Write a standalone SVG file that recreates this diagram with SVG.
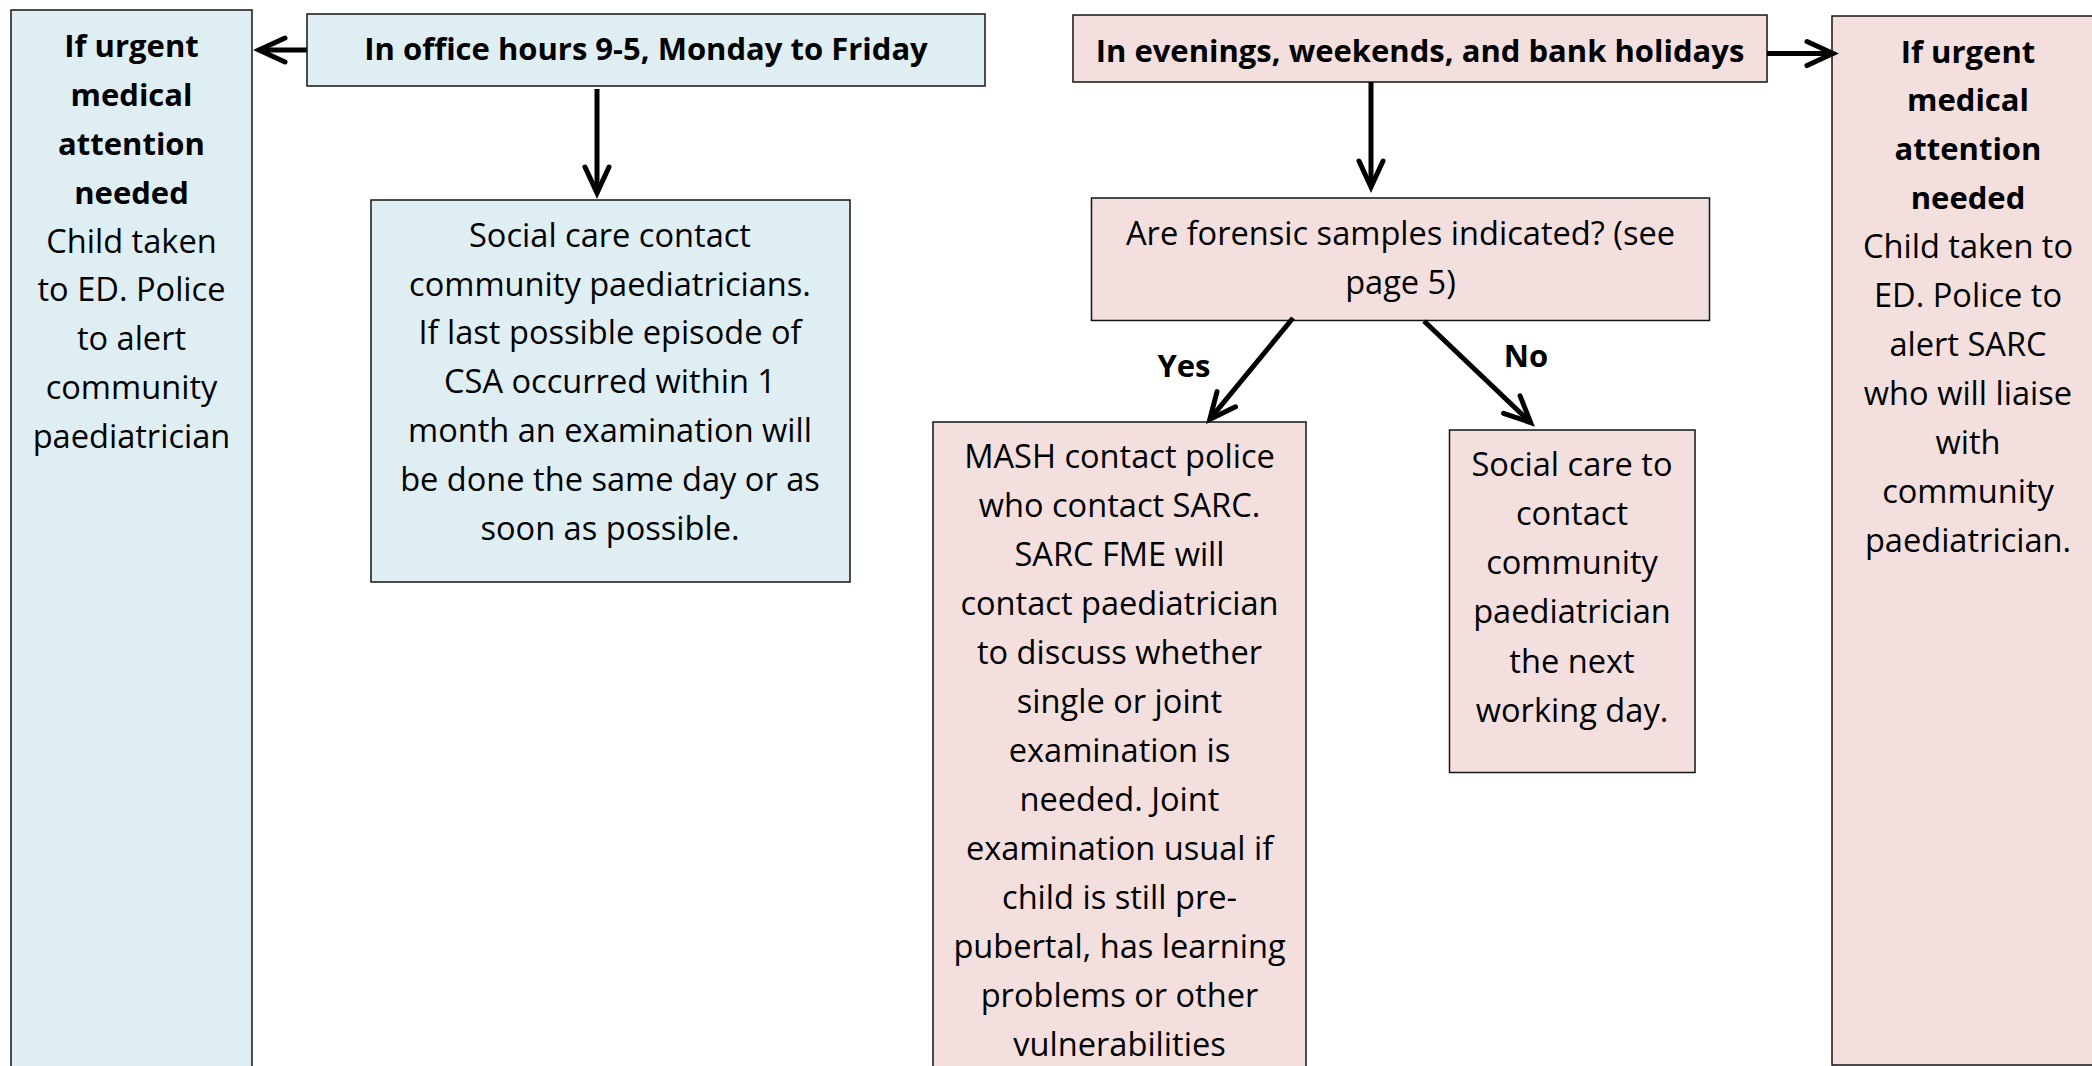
<svg xmlns="http://www.w3.org/2000/svg" width="2092" height="1066" viewBox="0 0 2092 1066">
<style>
  .box { stroke: #151515; stroke-width: 1.5; }
  .blue { fill: #DFEEF3; }
  .pink { fill: #F2DFDE; }
  text { font-family: "Open Sans", "Liberation Sans", sans-serif; font-size: 32.6px; fill: #000; text-anchor: middle; }
  .b { font-weight: bold; font-size: 31px; }
  .conn { stroke: #000; stroke-width: 5; fill: none; marker-end: url(#ah); }
</style>
<defs>
  <marker id="ah" markerUnits="userSpaceOnUse" orient="auto" overflow="visible" refX="0" refY="0" markerWidth="1" markerHeight="1">
    <path d="M-20,-12 L6,0 L-20,12" fill="none" stroke="#000" stroke-width="5" stroke-linejoin="miter" stroke-linecap="round"/>
  </marker>
</defs>
<rect width="2092" height="1066" fill="#fff"/>

<g id="urgent-left">
  <rect class="box blue" x="11" y="10" width="241" height="1075"/>
  <text class="b" x="131.5" y="56.7">If urgent</text>
  <text class="b" x="131.5" y="105.6">medical</text>
  <text class="b" x="131.5" y="154.6">attention</text>
  <text class="b" x="131.5" y="203.5">needed</text>
  <text x="131.5" y="252.5">Child taken</text>
  <text x="131.5" y="301.4">to ED. Police</text>
  <text x="131.5" y="350.4">to alert</text>
  <text x="131.5" y="399.3">community</text>
  <text x="131.5" y="448.3">paediatrician</text>
</g>

<g id="office-hours">
  <rect class="box blue" x="307" y="14" width="678" height="72"/>
  <text class="b" x="646" y="60">In office hours 9-5, Monday to Friday</text>
</g>

<g id="social-care-office">
  <rect class="box blue" x="371" y="200" width="479" height="382"/>
  <text x="610" y="246.7">Social care contact</text>
  <text x="610" y="295.5">community paediatricians.</text>
  <text x="610" y="344.3">If last possible episode of</text>
  <text x="610" y="393.1">CSA occurred within 1</text>
  <text x="610" y="441.9">month an examination will</text>
  <text x="610" y="490.7">be done the same day or as</text>
  <text x="610" y="539.5">soon as possible.</text>
</g>

<g id="evenings">
  <rect class="box pink" x="1073" y="15" width="694" height="67"/>
  <text class="b" x="1420" y="61.5">In evenings, weekends, and bank holidays</text>
</g>

<g id="forensic-question">
  <rect class="box pink" x="1091.5" y="198" width="618" height="122.5"/>
  <text x="1400.5" y="245">Are forensic samples indicated? (see</text>
  <text x="1400.5" y="293.5">page 5)</text>
</g>

<g id="mash">
  <rect class="box pink" x="933" y="422" width="373" height="665"/>
  <text x="1119.5" y="468.3">MASH contact police</text>
  <text x="1119.5" y="517.3">who contact SARC.</text>
  <text x="1119.5" y="566.3">SARC FME will</text>
  <text x="1119.5" y="615.3">contact paediatrician</text>
  <text x="1119.5" y="664.3">to discuss whether</text>
  <text x="1119.5" y="713.3">single or joint</text>
  <text x="1119.5" y="762.3">examination is</text>
  <text x="1119.5" y="811.3">needed. Joint</text>
  <text x="1119.5" y="860.3">examination usual if</text>
  <text x="1119.5" y="909.3">child is still pre-</text>
  <text x="1119.5" y="958.3">pubertal, has learning</text>
  <text x="1119.5" y="1007.3">problems or other</text>
  <text x="1119.5" y="1056.3">vulnerabilities</text>
</g>

<g id="social-care-next-day">
  <rect class="box pink" x="1449.5" y="430" width="245.5" height="342.5"/>
  <text x="1572" y="475.7">Social care to</text>
  <text x="1572" y="524.9">contact</text>
  <text x="1572" y="574.1">community</text>
  <text x="1572" y="623.3">paediatrician</text>
  <text x="1572" y="672.5">the next</text>
  <text x="1572" y="721.7">working day.</text>
</g>

<g id="urgent-right">
  <rect class="box pink" x="1832" y="16" width="280" height="1049"/>
  <text class="b" x="1968" y="62.5">If urgent</text>
  <text class="b" x="1968" y="111.4">medical</text>
  <text class="b" x="1968" y="160.3">attention</text>
  <text class="b" x="1968" y="209.2">needed</text>
  <text x="1968" y="258.1">Child taken to</text>
  <text x="1968" y="307">ED. Police to</text>
  <text x="1968" y="355.9">alert SARC</text>
  <text x="1968" y="404.8">who will liaise</text>
  <text x="1968" y="453.7">with</text>
  <text x="1968" y="502.6">community</text>
  <text x="1968" y="551.5">paediatrician.</text>
</g>

<g id="connectors">
  <line class="conn" x1="307" y1="50" x2="265" y2="50"/>
  <line class="conn" x1="597" y1="89" x2="597" y2="187"/>
  <line class="conn" x1="1767" y1="53.6" x2="1827" y2="53.6"/>
  <line class="conn" x1="1371" y1="82" x2="1371" y2="181"/>
  <line class="conn" x1="1293" y1="318" x2="1213.6" y2="414.7"/>
  <line class="conn" x1="1424" y1="321" x2="1526.3" y2="418.4"/>
  <text class="b" x="1184" y="377.3">Yes</text>
  <text class="b" x="1526" y="366.7">No</text>
</g>
</svg>
